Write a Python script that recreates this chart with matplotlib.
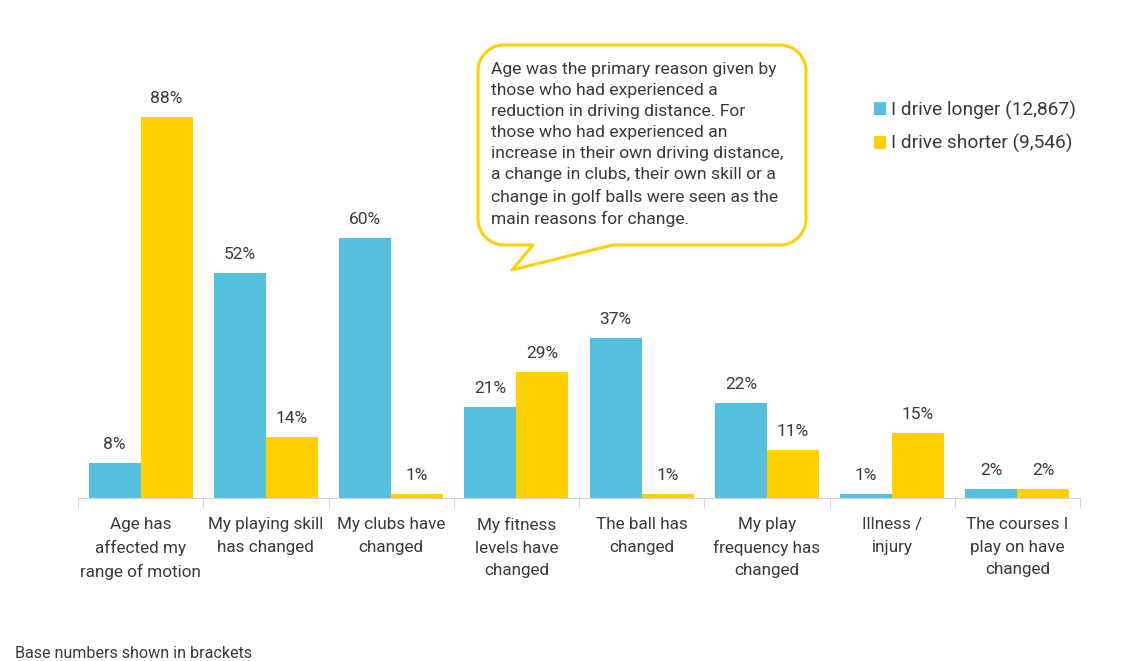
import matplotlib
matplotlib.use("Agg")
import matplotlib.pyplot as plt
import numpy as np
from matplotlib.path import Path
from matplotlib.patches import PathPatch

categories = [
    "Age has\naffected my\nrange of motion",
    "My playing skill\nhas changed",
    "My clubs have\nchanged",
    "My fitness\nlevels have\nchanged",
    "The ball has\nchanged",
    "My play\nfrequency has\nchanged",
    "Illness /\ninjury",
    "The courses I\nplay on have\nchanged",
]
longer = [8, 52, 60, 21, 37, 22, 1, 2]
shorter = [88, 14, 1, 29, 1, 11, 15, 2]
series_names = ["I drive longer (12,867)", "I drive shorter (9,546)"]

note = ("Age was the primary reason given by\nthose who had experienced a\n"
        "reduction in driving distance. For\nthose who had experienced an\n"
        "increase in their own driving distance,\na change in clubs, their own skill or a\n"
        "change in golf balls were seen as the\nmain reasons for change.")

BLUE = "#55c1de"
YELLOW = "#ffd100"
TXT = "#3a3a3a"
W, H = 1123, 661

plt.rcParams['font.family'] = ['Roboto', 'DejaVu Sans']

fig = plt.figure(figsize=(W / 100, H / 100), dpi=100)
ax = fig.add_axes([78 / W, 1 - 498 / H, (1080 - 78) / W, 433 / H])

x = np.arange(len(categories))
bw = 0.415
b1 = ax.bar(x - bw / 2, longer, bw, color=BLUE, label=series_names[0])
b2 = ax.bar(x + bw / 2, shorter, bw, color=YELLOW, label=series_names[1])

for bars, vals in [(b1, longer), (b2, shorter)]:
    for r, v in zip(bars, vals):
        ax.annotate(f"{v}%", (r.get_x() + r.get_width() / 2, v),
                    xytext=(0, 8), textcoords="offset points",
                    ha="center", va="bottom", fontsize=12.5, color=TXT)

ax.set_xlim(-0.5, len(categories) - 0.5)
ax.set_ylim(0, 100)
ax.set_yticks([])
for s in ["top", "right", "left"]:
    ax.spines[s].set_visible(False)
ax.spines["bottom"].set_color("#d0d0d0")
ax.set_xticks(x)
ax.set_xticklabels(categories, fontsize=12.3, color=TXT, linespacing=1.6)
ax.tick_params(axis="x", which="major", length=0, pad=14)
ax.set_xticks(np.arange(len(categories) + 1) - 0.5, minor=True)
ax.tick_params(axis="x", which="minor", length=7, color="#d0d0d0")

leg = fig.legend(handles=[b1, b2], loc="upper left",
                 bbox_to_anchor=(866 / W, 1 - 93 / H), frameon=False,
                 fontsize=13.8, handlelength=0.65, handleheight=0.65,
                 handletextpad=0.25, labelspacing=0.75, borderaxespad=0)
for t in leg.get_texts():
    t.set_color(TXT)

# speech bubble callout
x0, x1, y0, y1, r = 478, 806, 45, 245, 26
k = 0.5523 * r
pts = [
    (x0 + r, y0), (x1 - r, y0),
    (x1 - r + k, y0), (x1, y0 + r - k), (x1, y0 + r),
    (x1, y1 - r),
    (x1, y1 - r + k), (x1 - r + k, y1), (x1 - r, y1),
    (613, y1), (512, 270), (533, y1),
    (x0 + r, y1),
    (x0 + r - k, y1), (x0, y1 - r + k), (x0, y1 - r),
    (x0, y0 + r),
    (x0, y0 + r - k), (x0 + r - k, y0), (x0 + r, y0),
]
codes = [Path.MOVETO, Path.LINETO,
         Path.CURVE4, Path.CURVE4, Path.CURVE4,
         Path.LINETO,
         Path.CURVE4, Path.CURVE4, Path.CURVE4,
         Path.LINETO, Path.LINETO, Path.LINETO,
         Path.LINETO,
         Path.CURVE4, Path.CURVE4, Path.CURVE4,
         Path.LINETO,
         Path.CURVE4, Path.CURVE4, Path.CURVE4]
verts = [(px / W, 1 - py / H) for px, py in pts]
fig.patches.append(PathPatch(Path(verts, codes), transform=fig.transFigure,
                             facecolor="white", edgecolor=YELLOW, lw=2.2,
                             joinstyle="round"))
fig.text(491 / W, 1 - 62 / H, note, fontsize=12.6, color=TXT, va="top",
         ha="left", linespacing=1.5)

fig.text(15 / W, 1 - 653 / H, "Base numbers shown in brackets",
         fontsize=11.6, color=TXT, va="center", ha="left")

fig.savefig("out.png", dpi=100)
